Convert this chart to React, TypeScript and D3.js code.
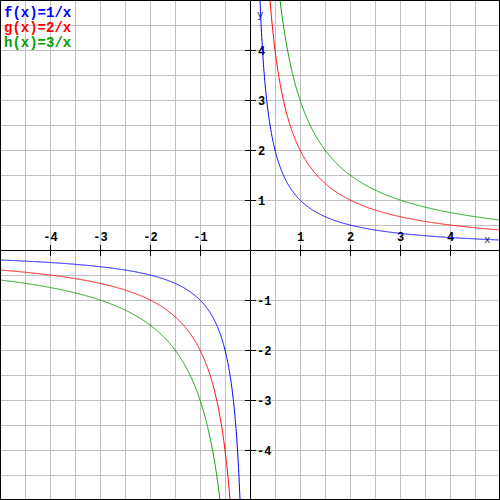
import React from "react";
import * as d3 from "d3";

const coefficients = [1, 2, 3];
const legendLabels = ["f(x)=1/x", "g(x)=2/x", "h(x)=3/x"];
const colors = ["#0000ff", "#ff0000", "#00a000"];
const xTicks = [-4, -3, -2, -1, 1, 2, 3, 4];
const yTicks = [-4, -3, -2, -1, 1, 2, 3, 4];

const W = 500;
const H = 500;

export default function App() {
  const x = d3.scaleLinear().domain([-5, 5]).range([0, 500]);
  const y = d3.scaleLinear().domain([-5, 5]).range([500, 0]);
  const gridVals = d3.range(-5, 5.01, 0.5);
  const mono = "'Liberation Mono', 'Courier New', monospace";

  const curves = coefficients.map((k) => {
    const neg = d3.range(-5, -0.01, 0.005).map((v) => [v, k / v] as [number, number]);
    const pos = d3.range(0.005, 5.001, 0.005).map((v) => [v, k / v] as [number, number]);
    const line = d3
      .line<[number, number]>()
      .x((d) => x(d[0]))
      .y((d) => y(Math.max(-20, Math.min(20, d[1]))));
    return (line(neg) || "") + (line(pos) || "");
  });

  return (
    <svg
      width={W}
      height={H}
      style={{ position: "absolute", left: 0, top: 0, background: "#fff" }}
    >
      <defs>
        <clipPath id="plot">
          <rect x={0} y={0} width={W} height={H} />
        </clipPath>
      </defs>
      <rect x={0} y={0} width={W} height={H} fill="#fff" />
      {gridVals.map((v) => (
        <g key={"g" + v}>
          <line x1={Math.round(x(v)) + 0.5} x2={Math.round(x(v)) + 0.5} y1={0} y2={H} stroke="#c0c0c0" strokeWidth={1} />
          <line y1={Math.round(y(v)) + 0.5} y2={Math.round(y(v)) + 0.5} x1={0} x2={W} stroke="#c0c0c0" strokeWidth={1} />
        </g>
      ))}
      <line x1={x(0) + 0.5} x2={x(0) + 0.5} y1={0} y2={H} stroke="#000" strokeWidth={1} />
      <line y1={y(0) + 0.5} y2={y(0) + 0.5} x1={0} x2={W} stroke="#000" strokeWidth={1} />
      {xTicks.map((t) => (
        <g key={"xt" + t}>
          <line x1={x(t) + 0.5} x2={x(t) + 0.5} y1={y(0) - 5} y2={y(0) + 6} stroke="#000" />
          <text
            x={x(t) + 0.5}
            y={y(0) - 9}
            textAnchor="middle"
            fontFamily={mono}
            fontWeight="bold"
            fontSize={12}
            fill="#000"
          >
            {t}
          </text>
        </g>
      ))}
      {yTicks.map((t) => (
        <g key={"yt" + t}>
          <line y1={y(t) + 0.5} y2={y(t) + 0.5} x1={x(0) - 5} x2={x(0) + 6} stroke="#000" />
          <text
            x={t < 0 ? x(0) + 7 : x(0) + 8}
            y={y(t) + 4.5}
            textAnchor="start"
            fontFamily={mono}
            fontWeight="bold"
            fontSize={12}
            fill="#000"
          >
            {t}
          </text>
        </g>
      ))}
      <text x={484} y={243} fontFamily={mono} fontSize={11} fill="#333">x</text>
      <text x={257} y={18} fontFamily={mono} fontSize={11} fill="#333">y</text>
      <g clipPath="url(#plot)">
        {curves.map((d, i) => (
          <path key={"c" + i} d={d} fill="none" stroke={colors[i]} strokeWidth={1} />
        ))}
      </g>
      {legendLabels.map((l, i) => (
        <text
          key={"l" + i}
          x={4}
          y={17 + i * 15}
          fontFamily={mono}
          fontWeight="bold"
          fontSize={14}
          fill={colors[i]}
        >
          {l}
        </text>
      ))}
      <rect x={0.5} y={0.5} width={W - 1} height={H - 1} fill="none" stroke="#000" strokeWidth={1} />
    </svg>
  );
}
